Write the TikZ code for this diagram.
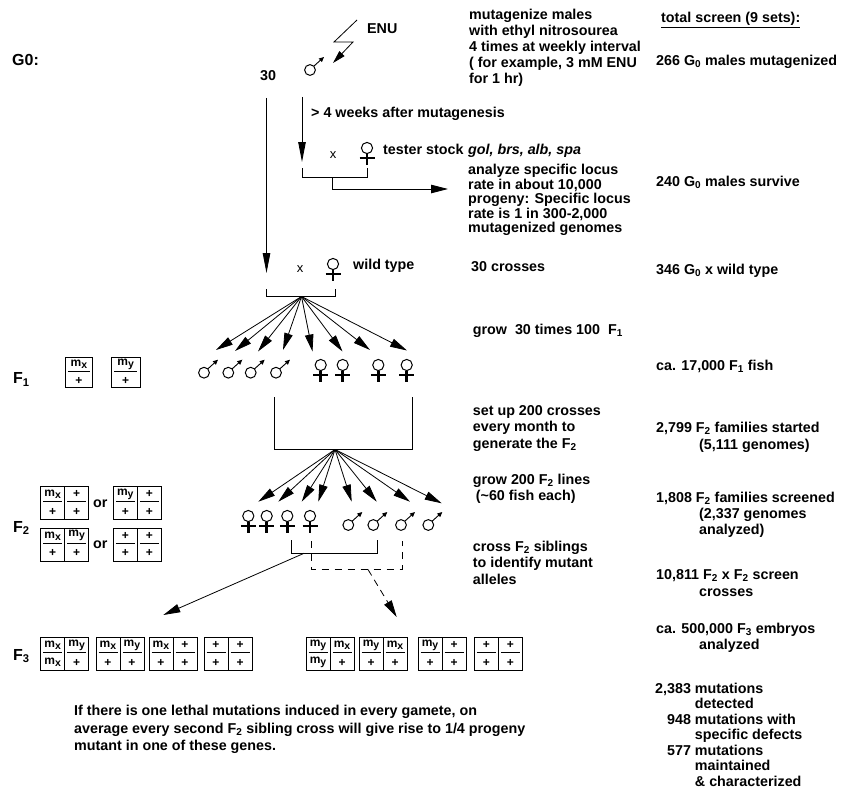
\documentclass[tikz,border=0pt]{standalone}
\usepackage{fontspec}
\setmainfont{Liberation Sans}
\usetikzlibrary{arrows.meta}

\newcommand{\sbs}[1]{\textsubscript{#1}}
\newcommand{\ml}[1]{\begin{tabular}[t]{@{}l@{}}#1\end{tabular}}
\newcommand{\mut}[1]{m\raisebox{-2pt}{\fontsize{10.5}{10.5}\selectfont#1}}

\tikzset{
  celltxt/.style={inner sep=0pt,font=\bfseries\fontsize{12}{12}\selectfont},
  pics/male/.style={code={
    \draw[line width=1pt] (0,0) circle (5.4);
    \draw[line width=0.9pt,-{Triangle[length=5pt,width=4.5pt]}] (3.8,-3.8) -- (14,-13);
  }},
  pics/female/.style={code={
    \draw[line width=1pt] (0,0) circle (5.6);
    \draw[line width=2.8pt] (0,5.6) -- (0,17) (-7.5,10) -- (7.5,10);
  }},
  pics/cell/.style 2 args={code={
    \draw[line width=0.9pt] (0,0) rectangle (24,33);
    \draw[line width=0.8pt] (2.5,15) -- (21.5,15);
    \node[celltxt] (-n) at (12,7.5) {#1};
    \node[celltxt] (-d) at (12,25) {#2};
  }},
  pics/box/.style n args={4}{code={
    \pic (-l) at (0,0) {cell={#1}{#2}};
    \pic (-r) at (24,0) {cell={#3}{#4}};
  }},
}

\begin{document}
\begin{tikzpicture}[x=1pt,y=-1pt,>={Triangle[length=17pt,width=8.5pt]},
  lbl/.style={anchor=base west,inner sep=0pt,font=\bfseries\fontsize{14.3}{#1}\selectfont},
  lbl/.default=15.5,
  gen/.style={anchor=base west,inner sep=0pt,font=\bfseries\fontsize{16}{16}\selectfont},
  xlbl/.style={inner sep=0pt,font=\fontsize{13}{13}\selectfont},
  fan/.style={->,line width=0.8pt},
  down/.style={-{Triangle[length=20pt,width=7.5pt]},line width=0.9pt},
  brk/.style={line width=0.9pt}]
\useasboundingbox (0,0) rectangle (853,789);

\node[gen] (g0) at (12,66) {G0:};
\node[lbl] (n30) at (260,80.5) {30};
\pic (m0) at (310,70) {male};
\node[lbl] (enu) at (367,34) {ENU};
\coordinate (bolt) at (357,20);
\coordinate (hit) at (333,63);
\draw[-{Triangle[length=13pt,width=7pt]},line width=0.8pt] (bolt) -- (334,42) -- (353,42) -- (hit);
\node[lbl=16] (mutag) at (469,19.5) {\ml{mutagenize males\\with ethyl nitrosourea\\4 times at weekly interval\\( for example, 3 mM ENU\\for 1 hr)}};
\node[lbl] (total) at (661,23) {\underline{total screen (9 sets):}};
\node[lbl] (s1) at (656,65.5) {266 G\sbs{0} males mutagenized};

\coordinate (a0) at (266.5,98);
\coordinate (a1) at (266.5,273);
\draw[down] (a0) -- (a1);
\coordinate (b0) at (302,97);
\coordinate (b1) at (302,162);
\draw[down] (b0) -- (b1);
\node[lbl] (wait) at (311,117.5) {> 4 weeks after mutagenesis};

\node[xlbl] (x1) at (333,155) {x};
\pic (ft) at (367,148) {female};
\node[lbl] (tester) at (383,154.5) {tester stock};
\node[lbl,font=\bfseries\itshape\fontsize{14.3}{15.5}\selectfont] (loci) at (468,154.5) {gol, brs, alb, spa};
\coordinate (tl) at (302,168);
\coordinate (tr) at (367,168);
\coordinate (tm) at (332,177);
\coordinate (res) at (448,189);
\draw[brk] (tl) |- (tr |- tm) -- (tr);
\draw[brk,->] (tm) |- (res);
\node[lbl=14.2] (locus) at (468,174.5) {\ml{analyze specific locus\\rate in about 10,000\\progeny: Specific locus\\rate is 1 in 300-2,000\\mutagenized genomes}};
\node[lbl] (s2) at (656,186.5) {240 G\sbs{0} males survive};

\node[xlbl] (x2) at (300,269) {x};
\pic (fw) at (333,264) {female};
\node[lbl] (wt) at (353,269.5) {wild type};
\node[lbl] (c30) at (471,271.5) {30 crosses};
\node[lbl] (s3) at (656,274) {346 G\sbs{0} x wild type};
\coordinate (wl) at (266.5,289);
\coordinate (wr) at (335,289);
\coordinate (fan1) at (301.5,296.5);
\draw[brk] (wl) |- (wr |- fan1) -- (wr);
\foreach \i/\tx/\ty in {1/216/350,2/235/351,3/258/351.5,4/283/350,5/312.5/351.5,6/342.5/351.5,7/370/350,8/407/350.5}
  {\coordinate (p\i) at (\tx,\ty);
   \draw[fan] (fan1) -- (p\i);}

\node[lbl] (grow1) at (472.7,334.5) {grow\ \ 30 times 100\ \ F\sbs{1}};
\node[gen] (f1) at (13,383.5) {F\sbs{1}};
\pic[xscale=1.16,yscale=0.92] (c1) at (65,357.5) {cell={\mut{x}}{+}};
\pic[xscale=1.22,yscale=0.92] (c2) at (111,357.5) {cell={\mut{y}}{+}};
\foreach \i/\mx in {1/204,2/228.3,3/250.7,4/276}
  \pic (mf\i) at (\mx,372.7) {male};
\foreach \i/\fx in {1/320.7,2/342.7,3/378.3,4/406.7}
  \pic (ff\i) at (\fx,365) {female};
\node[lbl] (s4) at (656,370.5) {ca. 17,000 F\sbs{1} fish};

\coordinate (gl) at (274,397);
\coordinate (gr) at (412,397);
\coordinate (fan2) at (335,449.5);
\draw[brk] (gl) |- (gr |- fan2) -- (gr);
\foreach \i/\tx/\ty in {1/258.3/501.7,2/278.3/501.7,3/301.7/501.7,4/318.3/501.7,5/351.7/501.7,6/376.7/501.7,7/410/501.7,8/441.7/503.3}
  {\coordinate (q\i) at (\tx,\ty);
   \draw[fan] (fan2) -- (q\i);}
\node[lbl=16.5] (setup) at (472.7,415) {\ml{set up 200 crosses\\every month to\\generate the F\sbs{2}}};
\node[lbl=17.5] (s5) at (656,432) {\ml{2,799 F\sbs{2} families started\\\hspace*{43pt}(5,111 genomes)}};

\node[gen] (f2) at (13,532) {F\sbs{2}};
\pic[yscale=0.98] (g1) at (40.7,486.7) {box={\mut{x}}{+}{+}{+}};
\node[lbl] (or1) at (93,507) {or};
\pic[yscale=0.98] (g2) at (113.3,486.7) {box={\mut{y}}{+}{+}{+}};
\pic[yscale=0.98] (g3) at (40.7,528.3) {box={\mut{x}}{+}{\mut{y}}{+}};
\node[lbl] (or2) at (93,548) {or};
\pic[yscale=0.98] (g4) at (113.3,528.3) {box={+}{+}{+}{+}};
\foreach \i/\fx in {1/248.3,2/266.7,3/287.3,4/310}
  \pic (fs\i) at (\fx,516) {female};
\foreach \i/\mx in {1/348.3,2/373.3,3/401,4/428.3}
  \pic (ms\i) at (\mx,525) {male};
\node[lbl] (grow2) at (472.7,484.5) {\ml{grow 200 F\sbs{2} lines\\\hspace*{3pt}(\textasciitilde60 fish each)}};
\node[lbl=16] (s6) at (656,502) {\ml{1,808 F\sbs{2} families screened\\\hspace*{43pt}(2,337 genomes\\\hspace*{43pt}analyzed)}};

\coordinate (sl) at (291.5,540);
\coordinate (sr) at (377.5,540);
\coordinate (sm) at (304,553.3);
\coordinate (t1) at (163.3,615);
\draw[brk] (sl) |- (sr |- sm) -- (sr);
\draw[fan] (sm) -- (t1);
\coordinate (dl) at (311,541);
\coordinate (dr) at (402,541);
\coordinate (dm) at (368,569.5);
\coordinate (t2) at (396.7,617);
\draw[brk,dash pattern=on 7pt off 6pt] (dl) |- (dr |- dm) -- (dr);
\draw[fan,dash pattern=on 7pt off 5pt] (dm) -- (t2);
\node[lbl=16.5] (sib) at (472.7,551) {\ml{cross F\sbs{2} siblings\\to identify mutant\\alleles}};
\node[lbl=17.5] (s7) at (656,579) {\ml{10,811 F\sbs{2} x F\sbs{2} screen\\\hspace*{43pt}crosses}};

\node[gen] (f3) at (13,660) {F\sbs{3}};
\pic (h1) at (40.7,637.5) {box={\mut{x}}{\mut{x}}{\mut{y}}{+}};
\pic (h2) at (96,637.5) {box={\mut{x}}{+}{\mut{y}}{+}};
\pic (h3) at (149,637.5) {box={\mut{x}}{+}{+}{+}};
\pic (h4) at (204,637.5) {box={+}{+}{+}{+}};
\pic (h5) at (306,637.5) {box={\mut{y}}{\mut{y}}{\mut{x}}{+}};
\pic (h6) at (359,637.5) {box={\mut{y}}{+}{\mut{x}}{+}};
\pic (h7) at (418,637.5) {box={\mut{y}}{+}{+}{+}};
\pic (h8) at (474.3,637.5) {box={+}{+}{+}{+}};
\node[lbl=16.5] (s8) at (656,633) {\ml{ca. 500,000 F\sbs{3} embryos\\\hspace*{43pt}analyzed}};

\node[lbl=17.5] (note) at (74,715.5) {\ml{If there is one lethal mutations induced in every gamete, on\\average every second F\sbs{2} sibling cross will give rise to 1/4 progeny\\mutant in one of these genes.}};
\node[lbl] (s9) at (655,693) {\begin{tabular}[t]{@{}r@{ }l@{}}2,383 & mutations\\ & detected\\948 & mutations with\\ & specific defects\\577 & mutations\\ & maintained\\ & \& characterized\end{tabular}};
\end{tikzpicture}
\end{document}
